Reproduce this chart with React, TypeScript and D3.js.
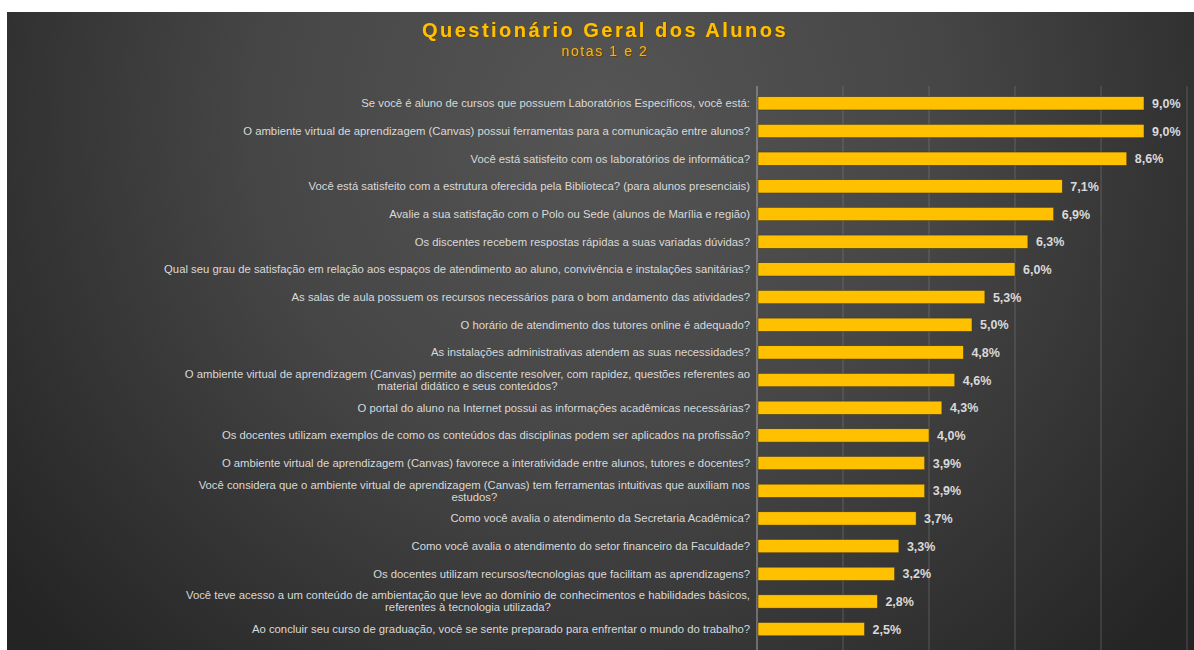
import React from "react";
import * as d3 from "d3";

const categories: string[] = [
  "Se você é aluno de cursos que possuem Laboratórios Específicos, você está:",
  "O ambiente virtual de aprendizagem (Canvas) possui ferramentas para a comunicação entre alunos?",
  "Você está satisfeito com os laboratórios de informática?",
  "Você está satisfeito com a estrutura oferecida pela Biblioteca? (para alunos presenciais)",
  "Avalie a sua satisfação com o Polo ou Sede (alunos de Marília e região)",
  "Os discentes recebem respostas rápidas a suas variadas dúvidas?",
  "Qual seu grau de satisfação em relação aos espaços de atendimento ao aluno, convivência e instalações sanitárias?",
  "As salas de aula possuem os recursos necessários para o bom andamento das atividades?",
  "O horário de atendimento dos tutores online é adequado?",
  "As instalações administrativas atendem as suas necessidades?",
  "O ambiente virtual de aprendizagem (Canvas) permite ao discente resolver, com rapidez, questões referentes ao|material didático e seus conteúdos?",
  "O portal do aluno na Internet possui as informações acadêmicas necessárias?",
  "Os docentes utilizam exemplos de como os conteúdos das disciplinas podem ser aplicados na profissão?",
  "O ambiente virtual de aprendizagem (Canvas) favorece a interatividade entre alunos, tutores e docentes?",
  "Você considera que o ambiente virtual de aprendizagem (Canvas) tem ferramentas intuitivas que auxiliam nos|estudos?",
  "Como você avalia o atendimento da Secretaria Acadêmica?",
  "Como você avalia o atendimento do setor financeiro da Faculdade?",
  "Os docentes utilizam recursos/tecnologias que facilitam as aprendizagens?",
  "Você teve acesso a um conteúdo de ambientação que leve ao domínio de conhecimentos e habilidades básicos,|referentes à tecnologia utilizada?",
  "Ao concluir seu curso de graduação, você se sente preparado para enfrentar o mundo do trabalho?",
];

const values: number[] = [9.0, 9.0, 8.6, 7.1, 6.9, 6.3, 6.0, 5.3, 5.0, 4.8, 4.6, 4.3, 4.0, 3.9, 3.9, 3.7, 3.3, 3.2, 2.8, 2.5];

const gridTicks: number[] = [2, 4, 6, 8, 10];

const W = 1194;
const H = 650;
const LABEL_X = 750;

export default function App() {
  const x = d3.scaleLinear().domain([0, 10]).range([757, 1187]);
  const y = d3
    .scaleBand<number>()
    .domain(d3.range(categories.length))
    .range([89.5, 643])
    .paddingInner(0.52)
    .paddingOuter(0.26);
  const bw = y.bandwidth();
  const fmt = (v: number) => v.toFixed(1).replace(".", ",") + "%";
  const labelFont = "'Liberation Sans', Arial, sans-serif";

  return (
    <svg
      width={W}
      height={H}
      style={{ position: "absolute", left: 0, top: 0, background: "#ffffff" }}
    >
      <defs>
        <radialGradient id="bg" cx="600" cy="120" r="760" gradientUnits="userSpaceOnUse">
          <stop offset="0" stopColor="#555555" />
          <stop offset="0.45" stopColor="#464646" />
          <stop offset="1" stopColor="#242424" />
        </radialGradient>
        <filter id="tshadow" x="-10%" y="-30%" width="120%" height="160%">
          <feDropShadow dx="1" dy="1" stdDeviation="0.6" floodColor="#6b3d00" floodOpacity="0.9" />
        </filter>
      </defs>
      <rect x={7} y={12} width={W - 7} height={H - 12} fill="url(#bg)" />

      <text
        x={605}
        y={37}
        textAnchor="middle"
        fontFamily="'Liberation Sans', Arial, sans-serif"
        fontWeight="bold"
        fontSize={20}
        letterSpacing={2.5}
        fill="#FFC000"
        filter="url(#tshadow)"
      >
        Questionário Geral dos Alunos
      </text>
      <text
        x={605}
        y={56}
        textAnchor="middle"
        fontFamily="'Liberation Sans', Arial, sans-serif"
        fontSize={14}
        letterSpacing={1.6}
        fill="#F0B21A"
        filter="url(#tshadow)"
      >
        notas 1 e 2
      </text>

      {gridTicks.map((t) => (
        <line
          key={t}
          x1={x(t)}
          x2={x(t)}
          y1={86}
          y2={650}
          stroke="#8a8a8a"
          strokeOpacity={0.45}
          strokeWidth={1}
        />
      ))}
      <line x1={x(0)} x2={x(0)} y1={86} y2={650} stroke="#a6a6a6" strokeWidth={1} />

      {values.map((v, i) => (
        <rect
          key={i}
          x={x(0) + 1}
          y={y(i)!}
          width={x(v) - x(0) - 1}
          height={bw}
          fill="#FFC000"
          stroke="#3a3420"
          strokeWidth={0.5}
        />
      ))}

      {values.map((v, i) => (
        <text
          key={"v" + i}
          x={x(v) + 8}
          y={y(i)! + bw / 2}
          dy="0.36em"
          fontFamily="'Liberation Sans', Arial, sans-serif"
          fontWeight="bold"
          fontSize={12.5}
          fill="#d9d9d9"
        >
          {fmt(v)}
        </text>
      ))}

      {categories.map((c, i) => {
        const lines = c.split("|");
        const cy = y(i)! + bw / 2;
        if (lines.length === 1) {
          return (
            <text
              key={"c" + i}
              x={LABEL_X}
              y={cy}
              dy="0.35em"
              textAnchor="end"
              fontFamily={labelFont}
              fontSize={11.3}
              fill="#d9d9d9"
            >
              {c}
            </text>
          );
        }
        return <LabelTwo key={"c" + i} lines={lines} cy={cy} font={labelFont} />;
      })}
    </svg>
  );
}

function LabelTwo({ lines, cy, font }: { lines: string[]; cy: number; font: string }) {
  const ref = React.useRef<SVGTextElement>(null);
  const [cx, setCx] = React.useState<number | null>(null);
  React.useLayoutEffect(() => {
    if (ref.current) {
      const w = ref.current.getComputedTextLength();
      setCx(LABEL_X - w / 2);
    }
  }, []);
  return (
    <g fontFamily={font} fontSize={11.3} fill="#d9d9d9">
      <text ref={ref} x={LABEL_X} y={cy - 6} dy="0.35em" textAnchor="end">
        {lines[0]}
      </text>
      <text x={cx ?? 470} y={cy + 6} dy="0.35em" textAnchor="middle">
        {lines[1]}
      </text>
    </g>
  );
}
